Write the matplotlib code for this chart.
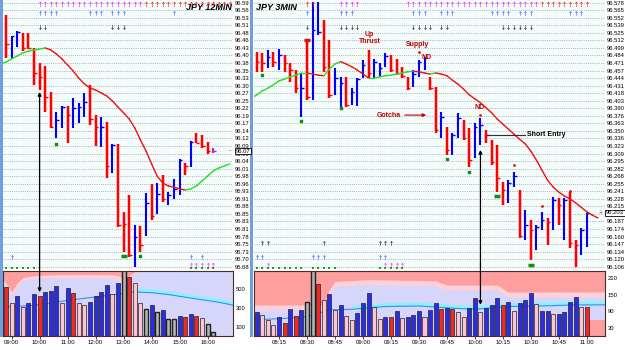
import numpy as np
import matplotlib.pyplot as plt
import matplotlib.transforms as mtransforms
from matplotlib.patches import Rectangle, ConnectionPatch

plt.rcParams['font.family'] = ['Liberation Sans', 'DejaVu Sans']

# ---------------- JPY 12MIN (left) ----------------
l_high = [96.549, 96.476, 96.493, 96.486, 96.486, 96.435, 96.383, 96.373, 96.283, 96.214,
          96.235, 96.235, 96.262, 96.245, 96.280, 96.307, 96.204, 96.197, 96.180, 96.104,
          96.104, 95.869, 95.928, 95.824, 95.821, 95.935, 95.966, 95.969, 95.997, 95.938,
          95.983, 96.052, 96.038, 96.114, 96.142, 96.135, 96.111, 96.090]
l_low = [96.400, 96.400, 96.438, 96.424, 96.431, 96.307, 96.290, 96.214, 96.159, 96.124,
         96.159, 96.107, 96.159, 96.176, 96.197, 96.169, 96.097, 96.093, 95.987, 96.004,
         95.818, 95.731, 95.714, 95.680, 95.731, 95.786, 95.842, 95.862, 95.904, 95.893,
         95.914, 95.928, 95.997, 96.024, 96.107, 96.090, 96.069, 96.073]
l_close = [96.449, 96.476, 96.490, 96.435, 96.435, 96.349, 96.335, 96.266, 96.162, 96.186,
           96.231, 96.204, 96.228, 96.231, 96.249, 96.190, 96.162, 96.162, 96.028, 96.100,
           95.824, 95.828, 95.721, 95.783, 95.756, 95.900, 95.856, 95.931, 95.914, 95.928,
           95.949, 96.049, 96.028, 96.111, 96.107, 96.097, 96.080, 96.080]
l_col = "rbbrrrrrrbbrbbbrrbrbrrrbrbrbrbbbrbrrrp"

# moving average, bar index -1 .. 40
l_ma = [96.380, 96.386, 96.397, 96.407, 96.418, 96.424, 96.428, 96.431, 96.435, 96.428,
        96.414, 96.397, 96.376, 96.355, 96.331, 96.311, 96.297, 96.290, 96.280, 96.269,
        96.252, 96.231, 96.211, 96.190, 96.159, 96.118, 96.080, 96.035, 95.993, 95.969,
        95.959, 95.955, 95.949, 95.945, 95.949, 95.959, 95.976, 95.993, 96.011, 96.021,
        96.028, 96.035]

l_vol = [522, 353, 421, 306, 353, 443, 421, 472, 482, 529, 353, 508, 461, 353, 324, 360,
         421, 472, 540, 450, 562, 700, 630, 558, 349, 288, 324, 252, 277, 180, 180, 216,
         198, 234, 216, 191, 126, 43]
l_vol_col = "rpbpbbrbbbpbrppbbbbpbgrppgbgbggbrbrpgg"
l_vma_x = [-1, 5, 11, 17, 23, 26, 29, 32, 35, 38, 41]
l_vma = [305, 325, 378, 422, 468, 460, 440, 412, 385, 358, 322]
l_band_x = [-1, 0, 1, 2, 3, 5, 8, 14, 19, 20, 21, 22, 23, 24, 41]
l_band_lo = [640, 560, 470, 560, 620, 640, 650, 652, 650, 640, 610, 640, 680, 700, 700]
l_band_pale = [600, 520, 430, 520, 590, 610, 620, 620, 615, 600, 575, 610, 660, 700, 700]

l_yticklabels = ["96.59", "96.56", "96.53", "96.51", "96.48", "96.46", "96.43", "96.40", "96.38",
                 "96.35", "96.33", "96.30", "96.27", "96.25", "96.22", "96.19", "96.17", "96.14",
                 "96.12", "96.09", "96.06", "96.04", "96.01", "95.98", "95.96", "95.93", "95.91",
                 "95.88", "95.85", "95.83", "95.81", "95.78", "95.75", "95.73", "95.70", "95.68"]
l_times = ["09:00", "10:00", "11:00", "12:00", "13:00", "14:00", "15:00", "16:00"]
l_time_idx = [1, 6, 11, 16, 21, 26, 31, 36]

# ---------------- JPY 3MIN (right) ----------------
r_high = [96.490, 96.488, 96.494, 96.490, 96.496, 96.485, 96.471, 96.458, 96.453, 96.512,
          96.579, 96.579, 96.547, 96.512, 96.462, 96.446, 96.446, 96.426, 96.444, 96.476,
          96.494, 96.478, 96.471, 96.488, 96.485, 96.478, 96.464, 96.446, 96.458, 96.476,
          96.481, 96.446, 96.428, 96.383, 96.357, 96.346, 96.382, 96.369, 96.355, 96.364,
          96.373, 96.352, 96.334, 96.325, 96.259, 96.262, 96.277, 96.245, 96.209, 96.191,
          96.182, 96.206, 96.195, 96.232, 96.230, 96.230, 96.241, 96.156, 96.177, 96.204]
r_low = [96.455, 96.455, 96.462, 96.464, 96.458, 96.455, 96.437, 96.417, 96.375, 96.405,
         96.405, 96.520, 96.455, 96.408, 96.414, 96.392, 96.392, 96.396, 96.394, 96.444,
         96.444, 96.444, 96.446, 96.464, 96.455, 96.449, 96.444, 96.423, 96.428, 96.446,
         96.458, 96.423, 96.346, 96.337, 96.307, 96.307, 96.337, 96.334, 96.286, 96.302,
         96.325, 96.328, 96.289, 96.241, 96.218, 96.222, 96.250, 96.159, 96.156, 96.120,
         96.138, 96.174, 96.147, 96.174, 96.182, 96.156, 96.141, 96.108, 96.129, 96.143]
r_close = [96.473, 96.471, 96.481, 96.473, 96.485, 96.471, 96.458, 96.426, 96.426, 96.410,
           96.529, 96.526, 96.464, 96.414, 96.444, 96.435, 96.396, 96.419, 96.442, 96.467,
           96.453, 96.473, 96.462, 96.483, 96.458, 96.453, 96.448, 96.426, 96.451, 96.473,
           96.480, 96.426, 96.352, 96.375, 96.316, 96.343, 96.373, 96.337, 96.298, 96.357,
           96.360, 96.343, 96.295, 96.266, 96.245, 96.257, 96.270, 96.163, 96.182, 96.174,
           96.179, 96.191, 96.188, 96.227, 96.218, 96.227, 96.150, 96.147, 96.174, 96.204]
r_col = "rrbrbrrrbrbbrrbbrbbbrbbbrrrrbbbrrbrbbrrbbrrrrbbrbrbbrbrbrrbb"

# moving average, bar index -1 .. 61
r_ma = [96.408, 96.414, 96.421, 96.426, 96.432, 96.439, 96.442, 96.446, 96.449, 96.453,
        96.453, 96.451, 96.449, 96.448, 96.460, 96.469, 96.473, 96.469, 96.464, 96.458,
        96.451, 96.444, 96.444, 96.446, 96.448, 96.449, 96.451, 96.453, 96.455, 96.456,
        96.455, 96.453, 96.451, 96.453, 96.451, 96.448, 96.440, 96.433, 96.424, 96.414,
        96.407, 96.400, 96.391, 96.382, 96.371, 96.362, 96.353, 96.344, 96.335, 96.327,
        96.314, 96.298, 96.280, 96.262, 96.250, 96.241, 96.234, 96.229, 96.222, 96.214,
        96.206, 96.200, 96.195]

r_vol = [88, 76, 58, 40, 70, 46, 97, 73, 95, 122, 250, 188, 131, 152, 95, 113, 73, 58, 82, 119,
         155, 104, 63, 70, 68, 91, 64, 70, 76, 92, 70, 95, 119, 97, 102, 97, 88, 68, 101, 137,
         88, 101, 113, 137, 113, 125, 92, 119, 131, 155, 116, 92, 92, 79, 80, 88, 122, 141, 104, 104]
r_vol_col = "bpppbrbrbggrpbpbppbbbppbrbpbbbpbbrbrppbbpbbbrbpbbbpbbpbbbbpr"
r_vma_x = [-1, 5, 9, 13, 17, 23, 29, 35, 39, 45, 51, 57, 63]
r_vma = [58, 64, 70, 95, 97, 107, 109, 101, 97, 107, 109, 113, 113]
r_band_x = [-1, 12, 13, 14, 20, 32, 34, 43, 45, 63]
r_band_lo = [113, 113, 170, 198, 205, 200, 185, 185, 160, 160]

r_yticklabels = ["96.578", "96.565", "96.552", "96.539", "96.525", "96.512", "96.499", "96.484",
                 "96.471", "96.457", "96.444", "96.431", "96.418", "96.403", "96.390", "96.376",
                 "96.363", "96.350", "96.336", "96.323", "96.309", "96.295", "96.282", "96.268",
                 "96.255", "96.241", "96.228", "96.215", "96.201", "96.187", "96.174", "96.160",
                 "96.147", "96.134", "96.120", "96.106"]
r_times = ["08:15", "08:30", "08:45", "09:00", "09:15", "09:30", "09:45", "10:00", "10:15",
           "10:30", "10:45", "11:00"]
r_time_idx = [4, 9, 14, 19, 24, 29, 34, 39, 44, 49, 54, 59]

# indicator marker rows (bar indexes)
l_top_mag = list(range(6, 25))
l_top_red = list(range(25, 41))
l_row_blue = [6, 7, 8, 9, 15, 16, 17, 19, 20, 21, 30]
l_row_black = [6, 7, 19, 20, 21]
l_bot_blue = [1, 33, 35]
l_bot_green = [0, 1, 2, 3, 4, 5, 33, 34, 35, 36, 37]
l_bot_mag = [33, 34, 35, 36, 37]

r_top_mag = [15, 16, 17, 18] + list(range(27, 51))
r_top_red = [9, 10] + list(range(51, 60))
r_row_blue = [9, 15, 16, 17, 28, 29, 30, 33, 34, 35, 42, 43, 44, 45, 47, 48, 49, 56, 57, 58]
r_row_black = [9, 15, 16, 17, 18, 28, 29, 30, 31, 33, 34, 44, 45, 46, 47, 48, 49]
r_bot_black = [1, 2, 12, 22, 23, 24]
r_bot_blue = [0, 1, 10, 11, 12, 22, 23]
r_bot_green = list(range(0, 9)) + list(range(10, 15)) + list(range(22, 27))
r_bot_mag = [2, 23, 24, 25, 26]

# signal dots
l_green_x, l_green_y = [9, 24], [96.104, 95.718]
l_gdash_x, l_gdash_y = [21], [95.718]
r_green_x, r_green_y = [1, 8, 15, 34, 38], [96.449, 96.367, 96.391, 96.300, 96.277]
r_gdash_x, r_gdash_y = [43, 49], [96.234, 96.111]
r_red_x, r_red_y = [29, 40, 46, 51, 56], [96.490, 96.378, 96.289, 96.216, 96.243]
r_rdash_x, r_rdash_y = [9], [96.512]

W, H = 625, 350
fig = plt.figure(figsize=(6.25, 3.5), dpi=100)
fig.patch.set_facecolor('white')


def rect(x0, y0, x1, y1):
    return [x0 / W, 1 - y1 / H, (x1 - x0) / W, (y1 - y0) / H]


PCOL = {'r': '#ff0000', 'b': '#0000ff', 'p': '#c020c0'}
VCOL = {'r': '#f02828', 'p': '#ffc4d4', 'b': '#2c2ce6', 'g': '#b4b4b4'}
BG = '#f3fbfb'


def price_panel(ax, high, low, close, cols, ma, xlim, ylim, top, step, labels):
    ax.set_facecolor(BG)
    ax.set_xlim(*xlim)
    ax.set_ylim(*ylim)
    ticks = [top - k * step for k in range(len(labels))]
    ax.yaxis.tick_right()
    ax.set_yticks(ticks)
    ax.set_yticklabels(labels, fontsize=4.2)
    ax.tick_params(axis='y', length=0, pad=1.5)
    ax.set_xticks([])
    ax.grid(axis='y', color='#9a9a9a', lw=0.6, ls=(0, (1, 1.6)))
    ax.set_axisbelow(True)
    for s in ax.spines.values():
        s.set_visible(False)
    x = np.arange(len(high))
    hi, lo, cl = np.array(high), np.array(low), np.array(close)
    red = np.array([c == 'r' for c in cols])
    ax.vlines(x[red], lo[red], hi[red], color='#ffb4b4', lw=2.6, zorder=2)
    c = [PCOL[k] for k in cols]
    ax.vlines(x, lo, hi, colors=c, lw=1.5, zorder=3)
    ax.hlines(cl, x, x + 0.45, colors=c, lw=1.0, zorder=3)
    mx = np.arange(-1, len(ma) - 1)
    for k in range(len(ma) - 1):
        col = '#22e022' if ma[k + 1] >= ma[k] else '#ee1010'
        ax.plot(mx[k:k + 2], ma[k:k + 2], color=col, lw=1.0, solid_capstyle='round', zorder=4)


def marker_rows(ax, rows):
    tr = mtransforms.blended_transform_factory(ax.transData, ax.transAxes)
    for idx, py, mk, col, s in rows:
        ax.scatter(idx, [1 - py / 269] * len(idx), marker=mk, s=s, color=col,
                   transform=tr, lw=0, zorder=5, clip_on=False)


def volume_panel(ax, vol, cols, xlim, ylim, vma_x, vma, band_from, band_w, yt, times, tidx):
    ax.set_facecolor('#d6d6fb')
    ax.set_xlim(*xlim)
    ax.set_ylim(*ylim)
    x = np.arange(len(vol))
    ax.plot(vma_x, vma, color='#3a8ee8', lw=0.8, zorder=1.5)
    bx = [v for v in vma_x if v >= band_from]
    bv = np.array([m for v, m in zip(vma_x, vma) if v >= band_from])
    ax.fill_between(bx, bv, bv + band_w, color='#8af2ff', lw=0, zorder=1.2)
    c = [VCOL[k] for k in cols]
    lw = [1.0 if k == 'g' else 0.5 for k in cols]
    ax.bar(x, vol, width=0.72, color=c, edgecolor='#202020', linewidth=lw, zorder=2)
    ax.yaxis.tick_right()
    ax.set_yticks(yt)
    ax.set_yticklabels([str(v) for v in yt], fontsize=4.2)
    ax.tick_params(axis='y', length=0, pad=2)
    ax.set_xticks(tidx)
    ax.set_xticklabels(times, fontsize=4.3)
    ax.tick_params(axis='x', length=2, width=0.5, pad=1.2)
    for s in ax.spines.values():
        s.set_color('#4a2a2a')
        s.set_linewidth(0.8)


# ---- left ----
axL = fig.add_axes(rect(3, 0, 233, 269))
price_panel(axL, l_high, l_low, l_close, l_col, l_ma, (-0.536, 40.536),
            (95.6727, 96.6003), 96.591, 0.02601, l_yticklabels)
marker_rows(axL, [
    (l_top_mag, 4, r'$\uparrow$', '#ff20ff', 14),
    (l_top_red, 4, r'$\uparrow$', '#ff2020', 14),
    (l_row_blue, 13, r'$\uparrow$', '#2040ff', 10),
    (l_row_black, 27, r'$\downarrow$', '#000000', 10),
    (l_bot_blue, 257, r'$\uparrow$', '#2040ff', 10),
    (l_bot_mag, 265, r'$\uparrow$', '#ff20ff', 12),
    (l_bot_green, 268, 's', '#20a020', 3),
])
axL.scatter(l_green_x, l_green_y, marker='s', s=3, color='#109010', zorder=5)
axL.plot(l_gdash_x, l_gdash_y, marker='_', ms=5, mew=2.5, color='#109010', ls='none', zorder=5)
axL.text(0.995, 0.99, 'JPY 12MIN', transform=axL.transAxes, ha='right', va='top',
         fontsize=6.5, fontweight='bold', style='italic')

axLv = fig.add_axes(rect(3, 271, 233, 336))
axLv.fill_between(l_band_x, l_band_pale, l_band_lo, color='#ffd0d8', lw=0, zorder=1)
axLv.fill_between(l_band_x, l_band_lo, 720, color='#ff9e9e', lw=0, zorder=1)
volume_panel(axLv, l_vol, l_vol_col, (-0.536, 40.536), (0, 690), l_vma_x, l_vma,
             22, 40, [100, 300, 500], l_times, l_time_idx)

# ---- right ----
axR = fig.add_axes(rect(254, 0, 605, 269))
price_panel(axR, r_high, r_low, r_close, r_col, r_ma, (-0.483, 62.27),
            (96.1041, 96.5828), 96.578, 0.013422, r_yticklabels)
marker_rows(axR, [
    (r_top_mag, 4, r'$\uparrow$', '#ff20ff', 14),
    (r_top_red, 4, r'$\uparrow$', '#ff2020', 14),
    (r_row_blue, 13, r'$\uparrow$', '#2040ff', 10),
    (r_row_black, 27, r'$\downarrow$', '#000000', 10),
    (r_bot_black, 243, r'$\uparrow$', '#000000', 10),
    (r_bot_blue, 257, r'$\uparrow$', '#2040ff', 10),
    (r_bot_mag, 265, r'$\uparrow$', '#ff20ff', 12),
    (r_bot_green, 268, 's', '#20a020', 3),
])
axR.scatter(r_green_x, r_green_y, marker='s', s=3, color='#109010', zorder=5)
axR.plot(r_gdash_x, r_gdash_y, marker='_', ms=5, mew=2.5, color='#109010', ls='none', zorder=5)
axR.scatter(r_red_x, r_red_y, marker='o', s=4, color='#e01010', lw=0, zorder=5)
axR.plot(r_rdash_x, r_rdash_y, marker='_', ms=5, mew=2.5, color='#e01010', ls='none', zorder=5)
axR.text(0.005, 0.99, 'JPY 3MIN', transform=axR.transAxes, ha='left', va='top',
         fontsize=6.5, fontweight='bold', style='italic')

note = dict(color='#c00000', fontsize=5, fontweight='bold', ha='center', va='center', zorder=6)
axR.text(20.2, 96.515, 'Up\nThrust', linespacing=1.1, **note)
axR.text(28.8, 96.503, 'Supply', **note)
axR.text(30.4, 96.481, 'ND', **note)
axR.text(23.7, 96.378, 'Gotcha', **note)
axR.text(39.9, 96.391, 'ND', **note)
axR.annotate('', xy=(30.8, 96.378), xytext=(26.0, 96.378),
             arrowprops=dict(arrowstyle='-|>', color='#c00000', lw=0.8, mutation_scale=5))
axR.plot([41.2, 48.0], [96.343, 96.343], color='#303030', lw=0.8, zorder=5)
axR.text(48.3, 96.343, 'Short Entry', fontsize=5, fontweight='bold', ha='left', va='center',
         color='black', zorder=6)

axRv = fig.add_axes(rect(254, 271, 605, 336))
axRv.fill_between(r_band_x, np.array(r_band_lo) - 18, r_band_lo, color='#ffd0d8', lw=0, zorder=1)
axRv.fill_between(r_band_x, r_band_lo, 260, color='#ff9e9e', lw=0, zorder=1)
axRv.fill_between([59, 63], 0, 58, color='#ff9e9e', lw=0, zorder=1)
volume_panel(axRv, r_vol, r_vol_col, (-0.483, 62.27), (0, 236), r_vma_x, r_vma,
             17, 14, [30, 90, 150, 210], r_times, r_time_idx)

# arrows linking price bar to its volume bar
for axp, axv, xi, p, v in [(axL, axLv, 6, 96.283, 466), (axR, axRv, 40, 96.316, 113)]:
    fig.add_artist(ConnectionPatch(xyA=(xi, p), coordsA=axp.transData, xyB=(xi, v),
                                   coordsB=axv.transData, arrowstyle='<|-|>',
                                   mutation_scale=5, lw=0.9, color='black', zorder=7))

# last price boxes
box = dict(boxstyle='square,pad=0.15', fc='white', ec='black', lw=0.6)
fig.text(243 / W, 1 - 151 / H, '96.07', fontsize=4.2, ha='center', va='center', bbox=box)
fig.text(615 / W, 1 - 213 / H, '96.203', fontsize=4.2, ha='center', va='center', bbox=box)
fig.text(230 / W, 1 - 151 / H, '-', fontsize=5, ha='center', va='center', color='#606060')
fig.text(601 / W, 1 - 213 / H, '+', fontsize=5, ha='center', va='center', color='#606060')

# panel borders
fig.add_artist(Rectangle((0, 1 - 337 / H), 2.5 / W, 337 / H, transform=fig.transFigure,
                         color='#6d9ee0', lw=0))
fig.add_artist(Rectangle((250 / W, 1 - 337 / H), 3 / W, 337 / H, transform=fig.transFigure,
                         color='#6d9ee0', lw=0))

fig.savefig('out.png', dpi=100)
